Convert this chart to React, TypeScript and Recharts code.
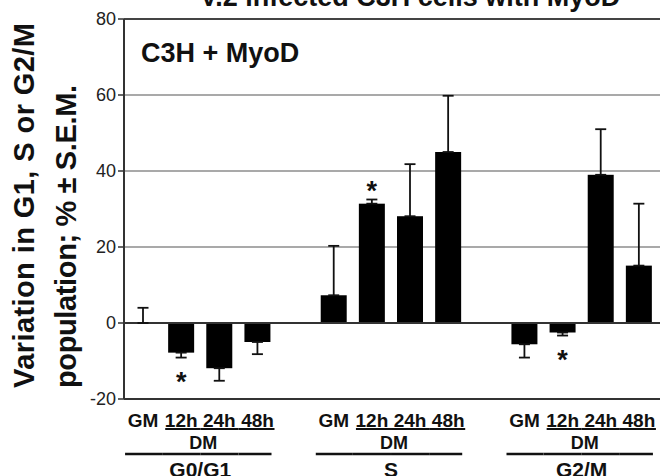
import { BarChart, Bar, XAxis, YAxis, CartesianGrid, ReferenceLine, ErrorBar } from "recharts"

const FONT = "'Liberation Sans', Arial, Helvetica, sans-serif"

const timepoints = ["GM", "12h", "24h", "48h"]
const phases = ["G0/G1", "S", "G2/M"]

// % variation per phase, GM then DM 12h / 24h / 48h
const g0g1Values = [0, -7.8, -11.9, -5]
const g0g1Sem = [4, 1.3, 3.3, 3.2]
const sValues = [7.3, 31.4, 28.1, 45]
const sSem = [13, 1.1, 13.7, 14.8]
const g2mValues = [-5.6, -2.5, 39, 15.1]
const g2mSem = [3.5, 0.8, 12, 16.3]
const g0g1Star = [false, true, false, false]
const sStar = [false, true, false, false]
const g2mStar = [false, true, false, false]

const yTicks = [-20, 0, 20, 40, 60, 80]

const phaseValues = [g0g1Values, sValues, g2mValues]
const phaseSem = [g0g1Sem, sSem, g2mSem]
const phaseStars = [g0g1Star, sStar, g2mStar]

type Row = {
  id: string
  phase: string
  time: string
  value: number | null
  sem: number
  err: [number, number] | null
  star: boolean
}

const rows: Row[] = []
phases.forEach((phase, p) => {
  timepoints.forEach((time, t) => {
    const v = phaseValues[p][t]
    const e = phaseSem[p][t]
    rows.push({
      id: `${phase} ${time}`,
      phase,
      time,
      value: v,
      sem: e,
      err: v >= 0 ? [0, e] : [e, 0],
      star: phaseStars[p][t],
    })
  })
  if (p < phases.length - 1) {
    rows.push({ id: `gap ${p}`, phase: "", time: "", value: null, sem: 0, err: null, star: false })
  }
})

const SLOT = 38.1

function PhaseTick(props: any) {
  const { x, y, payload } = props
  const r = rows.find((d) => d.id === payload.value)
  if (!r || !r.time) return null
  const ti = timepoints.indexOf(r.time)
  const ulStart = ti === 1 ? x - 16 : x - SLOT / 2
  const ulEnd = ti === 3 ? x + 17 : x + SLOT / 2
  const lnStart = ti === 0 ? x - 18 : x - SLOT / 2
  const lnEnd = ti === 3 ? x + 14 : x + SLOT / 2
  return (
    <g fontFamily={FONT} fontWeight="bold" fill="#111">
      <text x={x} y={y + 28} textAnchor="middle" fontSize={19}>
        {r.time}
      </text>
      {ti >= 1 && <line x1={ulStart} x2={ulEnd} y1={y + 30} y2={y + 30} stroke="#111" strokeWidth={1.8} />}
      <line x1={lnStart} x2={lnEnd} y1={y + 55} y2={y + 55} stroke="#111" strokeWidth={2.5} />
      {ti === 1 && (
        <>
          <text x={x + SLOT / 2 + 3} y={y + 50} textAnchor="middle" fontSize={18}>
            DM
          </text>
          <text x={x + SLOT / 2} y={y + 78} textAnchor="middle" fontSize={21}>
            {r.phase}
          </text>
        </>
      )}
    </g>
  )
}

// bar rectangle plus the significance star beyond the error bar
function StarBar(props: any) {
  const { x, y, width, height, payload } = props
  if (payload == null || payload.value == null) return null
  const top = Math.min(y, y + height)
  const h = Math.abs(height)
  const v = payload.value as number
  let star = null
  if (payload.star && v !== 0) {
    const ppu = h / Math.abs(v)
    const cx = x + width / 2
    const by = v >= 0 ? top - payload.sem * ppu : top + h + payload.sem * ppu + 33
    star = (
      <text x={cx} y={by} textAnchor="middle" fontFamily={FONT} fontWeight="bold" fontSize={27} fill="#111">
        *
      </text>
    )
  }
  return (
    <g>
      <rect x={x} y={top} width={width} height={h} fill="#000" />
      {star}
    </g>
  )
}

function Annotations() {
  return (
    <g fontFamily={FONT} fontWeight="bold" fill="#111">
      <text x={410} y={6} textAnchor="middle" fontSize={27}>
        V.2 infected C3H cells with MyoD
      </text>
      <text x={141} y={62} fontSize={27}>
        C3H + MyoD
      </text>
      <text x={34} y={388} transform="rotate(-90 34 388)" fontSize={29} textLength={365}>
        Variation in G1, S or G2/M
      </text>
      <text x={76} y={388} transform="rotate(-90 76 388)" fontSize={29} textLength={303}>
        population; % ± S.E.M.
      </text>
    </g>
  )
}

export default function App() {
  return (
    <div style={{ position: "absolute", left: 0, top: 0, width: 660, height: 476, overflow: "hidden", background: "#fff" }}>
      <BarChart
        width={660}
        height={476}
        data={rows}
        margin={{ top: 19, right: 0, bottom: 0, left: 0 }}
        barSize={26}
      >
        <CartesianGrid vertical={false} stroke="#8c8c8c" strokeWidth={1.5} />
        <ReferenceLine y={80} stroke="#444" strokeWidth={2} />
        <ReferenceLine y={0} stroke="#333" strokeWidth={2} />
        <XAxis
          dataKey="id"
          interval={0}
          height={77}
          padding={{ left: 0, right: 2 }}
          axisLine={{ stroke: "#333", strokeWidth: 2 }}
          tickLine={false}
          tickSize={0}
          tickMargin={0}
          tick={<PhaseTick />}
        />
        <YAxis
          width={124}
          domain={[-20, 80]}
          ticks={yTicks}
          interval={0}
          axisLine={{ stroke: "#333", strokeWidth: 2 }}
          tickLine={{ stroke: "#333", strokeWidth: 1.5 }}
          tickSize={6}
          tick={{ fontSize: 18, fill: "#222", fontFamily: FONT }}
          label={<Annotations />}
        />
        <Bar dataKey="value" fill="#000" shape={StarBar} isAnimationActive={false}>
          <ErrorBar dataKey="err" width={5.5} stroke="#111" strokeWidth={1.8} direction="y" isAnimationActive={false} />
        </Bar>
      </BarChart>
    </div>
  )
}
